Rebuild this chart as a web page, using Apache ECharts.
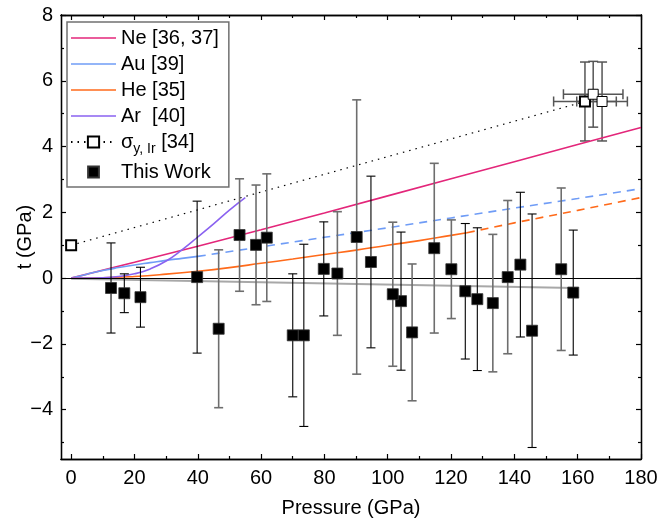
<!DOCTYPE html>
<html><head><meta charset="utf-8">
<script src="https://cdn.jsdelivr.net/npm/echarts@6/dist/echarts.min.js"></script>
<style>html,body{margin:0;padding:0;background:#fff}#c{width:659px;height:523px}</style>
</head><body><div id="c"></div>
<script>
// ---- tick labels ----
const xTicks = [0, 20, 40, 60, 80, 100, 120, 140, 160, 180];
const xMinorTicks = [10, 30, 50, 70, 90, 110, 130, 150, 170];
const yTicks = [-4, -2, 0, 2, 4, 6, 8];
const yMinorTicks = [-5, -3, -1, 1, 3, 5, 7];

// ---- series names ----
const nameNe = 'Ne [36, 37]';
const nameAu = 'Au [39]';
const nameHe = 'He [35]';
const nameAr = 'Ar  [40]';
const nameSigma = 'σy, Ir [34]';
const nameWork = 'This Work';

// ---- model curves ----
const neP = [0, 20, 40, 60, 80, 100, 120, 140, 160, 180];
const neT = [0, 0.48, 0.97, 1.47, 1.98, 2.5, 3.02, 3.54, 4.06, 4.58];

const auSolidP = [0, 5, 10, 15, 20, 25, 30, 35, 40];
const auSolidT = [0, 0.12, 0.23, 0.32, 0.40, 0.47, 0.54, 0.60, 0.66];
const auDashP = [40, 60, 80, 100, 120, 140, 160, 180];
const auDashT = [0.66, 0.95, 1.24, 1.53, 1.83, 2.13, 2.42, 2.72];

const heSolidP = [0, 10, 20, 30, 40, 50, 60, 70, 80, 90, 100, 110, 120, 125];
const heSolidT = [0, 0.01, 0.05, 0.12, 0.21, 0.32, 0.45, 0.58, 0.72, 0.85, 1.0, 1.14, 1.30, 1.38];
const heDashP = [125, 140, 160, 180];
const heDashT = [1.38, 1.68, 2.06, 2.45];

const arP = [0, 5, 10, 15, 20, 25, 30, 35, 40, 45, 50, 55];
const arT = [0, 0, 0.01, 0.05, 0.13, 0.28, 0.52, 0.86, 1.25, 1.65, 2.07, 2.45];

// ---- sigma_y,Ir [34] ----
const sigmaP = [0, 162.3, 164.9, 167.7];
const sigmaT = [1.0, 5.37, 5.59, 5.37];
const sigmaPErr = [0, 9.9, 9.4, 8.0];
const sigmaTErr = [0, 1.2, 1.0, 1.2];

// ---- This Work (two runs) ----
const runAP = [12.6, 16.8, 21.9, 39.8, 70.0, 73.5, 79.8, 94.7, 104.2, 124.5, 128.3, 141.9, 145.6, 158.6];
const runAT = [-0.30, -0.46, -0.58, 0.03, -1.74, -1.74, 0.28, 0.49, -0.70, -0.40, -0.64, 0.41, -1.60, -0.44];
const runAErr = [1.37, 0.59, 0.91, 2.31, 1.87, 2.77, 1.43, 2.61, 2.10, 2.06, 2.17, 2.20, 3.55, 1.90];

const runBP = [46.6, 53.2, 58.4, 61.8, 84.1, 90.2, 101.6, 107.7, 114.7, 120.1, 133.2, 137.9, 154.8];
const runBT = [-1.54, 1.31, 1.01, 1.23, 0.14, 1.25, -0.49, -1.65, 0.91, 0.27, -0.76, 0.03, 0.27];
const runBErr = [2.40, 1.71, 1.82, 1.94, 1.88, 4.17, 2.19, 2.08, 2.58, 1.50, 2.09, 2.33, 2.47];

// ---- linear fit ----
const fitP = [0, 159];
const fitT = [-0.02, -0.30];

const FONT = "'Liberation Sans', Arial, Helvetica, sans-serif";
const zip = (a, b) => a.map((v, i) => [v, b[i]]);

function errRender(color, width, cap) {
  return function (params, api) {
    const x = api.value(0), y = api.value(1), ex = api.value(2), ey = api.value(3);
    const style = { stroke: color, lineWidth: width };
    const ch = [];
    if (ey > 0) {
      const t = api.coord([x, y + ey]), b = api.coord([x, y - ey]);
      ch.push({ type: 'line', shape: { x1: t[0], y1: t[1], x2: b[0], y2: b[1] }, style });
      ch.push({ type: 'line', shape: { x1: t[0] - cap, y1: t[1], x2: t[0] + cap, y2: t[1] }, style });
      ch.push({ type: 'line', shape: { x1: b[0] - cap, y1: b[1], x2: b[0] + cap, y2: b[1] }, style });
    }
    if (ex > 0) {
      const l = api.coord([x - ex, y]), r = api.coord([x + ex, y]);
      ch.push({ type: 'line', shape: { x1: l[0], y1: l[1], x2: r[0], y2: r[1] }, style });
      ch.push({ type: 'line', shape: { x1: l[0], y1: l[1] - cap, x2: l[0], y2: l[1] + cap }, style });
      ch.push({ type: 'line', shape: { x1: r[0], y1: r[1] - cap, x2: r[0], y2: r[1] + cap }, style });
    }
    return { type: 'group', children: ch };
  };
}

const axisLine = { show: true, onZero: false, lineStyle: { color: '#000', width: 1.3 } };
const nameStyle = { fontSize: 20, color: '#000', fontFamily: FONT };
function xAx(pos, major, labels, title) {
  return {
    type: 'value', position: pos, min: -3.2, max: 180,
    axisLine: axisLine, splitLine: { show: false },
    axisTick: { show: true, inside: true, length: major ? 5 : 3, customValues: major ? xTicks : xMinorTicks, lineStyle: { color: '#000', width: 1.2 } },
    axisLabel: labels ? { show: true, customValues: xTicks, fontSize: 20, color: '#000', fontFamily: FONT, margin: 9 } : { show: false },
    name: title ? 'Pressure (GPa)' : '', nameLocation: 'middle', nameGap: 39, nameMoveOverlap: false,
    nameTextStyle: nameStyle
  };
}
function yAx(pos, major, labels, title) {
  return {
    type: 'value', position: pos, min: -5.5, max: 8,
    axisLine: axisLine, splitLine: { show: false },
    axisTick: { show: true, inside: true, length: major ? 5 : 3, customValues: major ? yTicks : yMinorTicks, lineStyle: { color: '#000', width: 1.2 } },
    axisLabel: labels ? { show: true, customValues: yTicks, fontSize: 20, color: '#000', fontFamily: FONT, margin: 8,
      formatter: v => (v < 0 ? '\u2212' + Math.abs(v) : String(v)) } : { show: false },
    name: title ? 't (GPa)' : '', nameLocation: 'middle', nameGap: 26, nameMoveOverlap: false,
    nameTextStyle: nameStyle
  };
}

const C_NE = '#e3267a', C_AU = '#6f9cf6', C_HE = '#ff6a1a', C_AR = '#8a62f0';
const LINE_ICON = 'path://M0,0h45v1.7h-45z';

const option = {
  animation: false,
  backgroundColor: '#fff',
  grid: { left: 61, right: 18, top: 15, bottom: 64, outerBoundsMode: 'none', containLabel: false },
  xAxis: [xAx('bottom', true, true, false), xAx('bottom', false, false, true), xAx('top', true, false, false), xAx('top', false, false, false)],
  yAxis: [yAx('left', true, true, false), yAx('left', false, false, true), yAx('right', true, false, false), yAx('right', false, false, false)],
  legend: {
    orient: 'vertical', left: 67, top: 22,
    padding: [6, 10, 5, 3], itemGap: 6, itemWidth: 45, itemHeight: 14,
    borderColor: '#707070', borderWidth: 1.5, backgroundColor: '#fff',
    textStyle: { fontSize: 20, color: '#000', fontFamily: FONT,
      rich: {
        n: { fontSize: 20, color: '#000', fontFamily: FONT },
        s: { fontSize: 14, color: '#000', fontFamily: FONT, verticalAlign: 'bottom', padding: [14, 0, 0, 0] }
      } },
    formatter: name => name === nameSigma ? '{n|σ}{s|y, Ir}{n| [34]}' : name,
    data: [
      { name: nameNe, icon: LINE_ICON }, { name: nameAu, icon: LINE_ICON },
      { name: nameHe, icon: LINE_ICON }, { name: nameAr, icon: LINE_ICON },
      nameSigma,
      { name: nameWork, icon: 'path://M-1.5,-1.5M0,0h10v10h-10zM11.5,11.5', itemStyle: { color: '#000', opacity: 1 } }]
  },
  series: [
    { name: 'fit', type: 'line', data: zip(fitP, fitT), symbol: 'none', silent: true, z: 3,
      lineStyle: { color: '#a8a8a8', width: 2 },
      markLine: { silent: true, symbol: 'none', label: { show: false },
        lineStyle: { color: '#000', width: 1, type: 'solid' }, data: [{ yAxis: 0 }] } },
    { name: nameNe, type: 'line', data: zip(neP, neT), symbol: 'none', z: 4, lineStyle: { color: C_NE, width: 1.6 }, itemStyle: { color: C_NE } },
    { name: nameAu, type: 'line', data: zip(auSolidP, auSolidT), symbol: 'none', smooth: true, z: 4, lineStyle: { color: C_AU, width: 1.6 }, itemStyle: { color: C_AU } },
    { name: nameAu, type: 'line', data: zip(auDashP, auDashT), symbol: 'none', z: 4, lineStyle: { color: C_AU, width: 1.6, type: [8, 6] }, itemStyle: { color: C_AU } },
    { name: nameHe, type: 'line', data: zip(heSolidP, heSolidT), symbol: 'none', smooth: true, z: 4, lineStyle: { color: C_HE, width: 1.6 }, itemStyle: { color: C_HE } },
    { name: nameHe, type: 'line', data: zip(heDashP, heDashT), symbol: 'none', z: 4, lineStyle: { color: C_HE, width: 1.6, type: [8, 6] }, itemStyle: { color: C_HE } },
    { name: nameAr, type: 'line', data: zip(arP, arT), symbol: 'none', smooth: true, z: 4, lineStyle: { color: C_AR, width: 1.6 }, itemStyle: { color: C_AR } },
    { name: nameSigma, type: 'line', data: zip(sigmaP.slice(0, 2), sigmaT.slice(0, 2)), symbol: 'emptyRect', symbolSize: 10, z: 5,
      lineStyle: { color: '#000', width: 1.2, type: [1.5, 5] }, itemStyle: { color: '#000', borderColor: '#000', borderWidth: 1 } },
    { name: 'sigmaErr', type: 'custom', renderItem: errRender('#555', 1.5, 5), encode: { x: 0, y: 1 }, z: 4,
      data: sigmaP.map((p, i) => [p, sigmaT[i], sigmaPErr[i], sigmaTErr[i]]) },
    { name: 'sigmaExtra', type: 'scatter', data: zip(sigmaP.slice(2), sigmaT.slice(2)), symbol: 'rect', symbolSize: 10, z: 6,
      itemStyle: { color: '#fff', borderColor: '#000', borderWidth: 1, opacity: 1 } },
    { name: nameWork, type: 'scatter', data: zip(runAP, runAT).concat(zip(runBP, runBT)), symbol: 'rect', symbolSize: 11, z: 7,
      itemStyle: { color: '#000', borderColor: '#333', borderWidth: 0.8, opacity: 1 } },
    { name: nameWork, type: 'custom', renderItem: errRender('#000', 1.1, 4.5), encode: { x: 0, y: 1 }, z: 6,
      data: runAP.map((p, i) => [p, runAT[i], 0, runAErr[i]]) },
    { name: nameWork, type: 'custom', renderItem: errRender('#6e6e6e', 1.6, 4.5), encode: { x: 0, y: 1 }, z: 6,
      data: runBP.map((p, i) => [p, runBT[i], 0, runBErr[i]]) }
  ]
};

const chart = echarts.init(document.getElementById('c'), null, { renderer: 'canvas' });
chart.setOption(option);
</script>
</body></html>
